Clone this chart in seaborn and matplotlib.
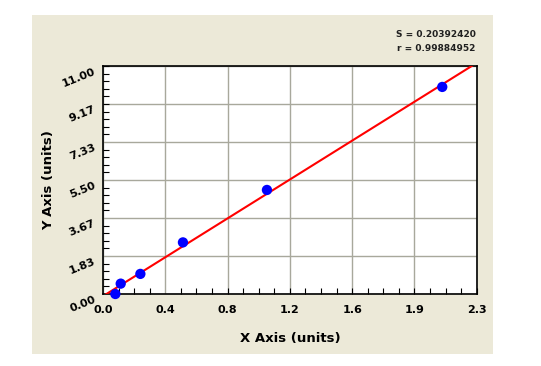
import numpy as np
import pandas as pd
import matplotlib
matplotlib.use("Agg")
import matplotlib.pyplot as plt
import seaborn as sns
from matplotlib.patches import Rectangle
from matplotlib.ticker import FixedLocator, AutoMinorLocator

# data
x_vals = [0.076, 0.109, 0.230, 0.492, 1.009, 2.088]
y_vals = [0.00, 0.50, 0.97, 2.49, 5.02, 9.99]
x_ticks = [0.0, 0.3833, 0.7667, 1.15, 1.5333, 1.9167, 2.3]
x_tick_labels = ["0.0", "0.4", "0.8", "1.2", "1.6", "1.9", "2.3"]
y_ticks = [0.0, 1.8333, 3.6667, 5.5, 7.3333, 9.1667, 11.0]
y_tick_labels = ["0.00", "1.83", "3.67", "5.50", "7.33", "9.17", "11.00"]
stats_lines = ["S = 0.20392420", "r = 0.99884952"]

df = pd.DataFrame({"x": x_vals, "y": y_vals})

sns.set_style("white")
plt.rcParams["font.family"] = ["DejaVu Sans"]
plt.rcParams["text.color"] = "black"
plt.rcParams["axes.labelcolor"] = "black"

W, H = 541, 366
fig = plt.figure(figsize=(W / 100, H / 100), dpi=100)
fig.patch.set_facecolor("white")
fig.patches.append(Rectangle((32 / W, 1 - 354 / H), (493 - 32) / W, (354 - 15) / H,
                             transform=fig.transFigure, facecolor="#ECE9D8",
                             edgecolor="none", zorder=-10))

ax = fig.add_axes([103 / W, 1 - 294 / H, (476.7 - 103) / W, (294 - 66) / H])
ax.set_zorder(5)
ax.set_facecolor("white")
ax.set_xlim(0, 2.3)
ax.set_ylim(0, 11)

sns.regplot(data=df, x="x", y="y", ax=ax, ci=None, truncate=False,
            scatter=False, line_kws=dict(color="#FF0000", lw=1.5, zorder=3))
sns.scatterplot(data=df, x="x", y="y", ax=ax, color="#0000FF", s=55,
                edgecolor="none", marker="o", zorder=4, clip_on=False)
ax.set_xlim(0, 2.3)
ax.set_ylim(0, 11)

ax.xaxis.set_major_locator(FixedLocator(x_ticks))
ax.yaxis.set_major_locator(FixedLocator(y_ticks))
ax.set_xticklabels(x_tick_labels)
ax.set_yticklabels(y_tick_labels, rotation=22, ha="right", va="top",
                   rotation_mode="anchor")
ax.xaxis.set_minor_locator(AutoMinorLocator(4))
ax.yaxis.set_minor_locator(AutoMinorLocator(5))
ax.grid(True, which="major", color="#A8A89C", lw=1.0)
ax.tick_params(axis="x", which="major", direction="in", length=0,
               labelsize=8, pad=8, colors="black")
ax.tick_params(axis="y", which="major", direction="in", length=0,
               labelsize=8, pad=7, colors="black")
ax.tick_params(axis="both", which="minor", direction="in", length=4,
               width=0.8, color="black", bottom=True, left=True)
for lab in ax.get_xticklabels() + ax.get_yticklabels():
    lab.set_fontweight("bold")
for sp in ax.spines.values():
    sp.set_color("black")
    sp.set_linewidth(1.2)

ax.set_xlabel("X Axis (units)", fontsize=9.5, fontweight="bold", labelpad=12)
ax.set_ylabel("Y Axis (units)", fontsize=9.5, fontweight="bold", labelpad=4)

fig.text(475.7 / W, 1 - 34.3 / H, stats_lines[0], ha="right", va="center",
         fontsize=6.5, fontweight="bold", color="#202020")
fig.text(475.7 / W, 1 - 48.3 / H, stats_lines[1], ha="right", va="center",
         fontsize=6.5, fontweight="bold", color="#202020")

fig.savefig("out.png", dpi=100)
